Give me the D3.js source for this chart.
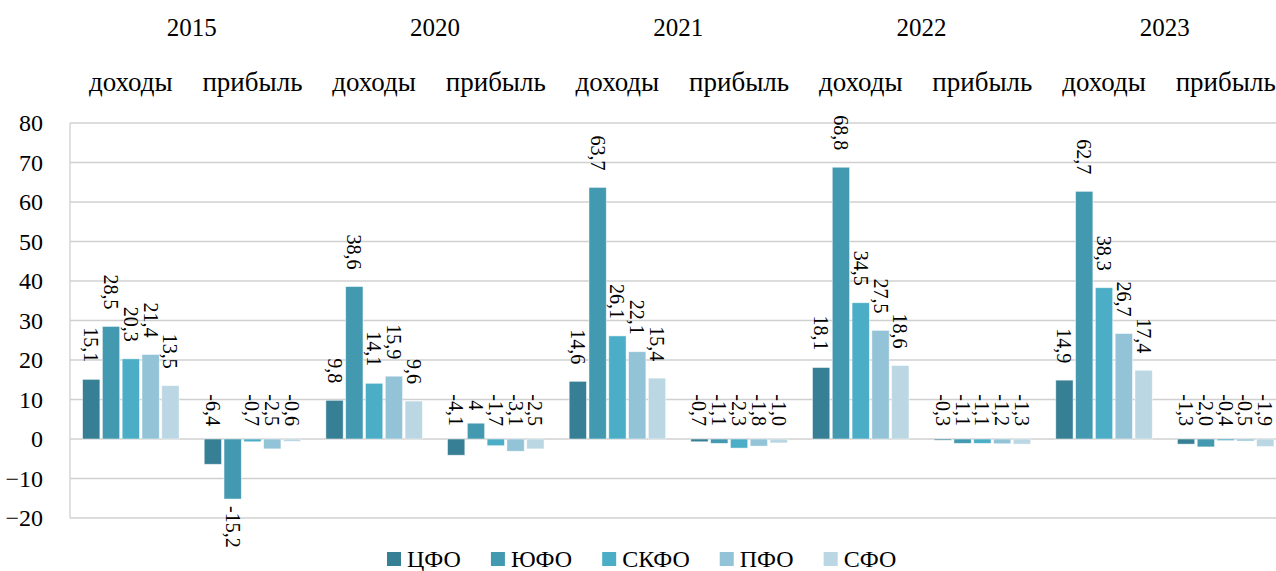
<!DOCTYPE html>
<html>
<head>
<meta charset="utf-8">
<script src="https://cdn.jsdelivr.net/npm/d3@7"></script>
<style>
  body { margin: 0; background: #fff; }
  svg text { font-family: "Liberation Serif", "DejaVu Serif", serif; }
</style>
</head>
<body>
<div id="container"></div>
<script>
const years = ["2015", "2020", "2021", "2022", "2023"];
const kinds = ["доходы", "прибыль"];
const districts = ["ЦФО", "ЮФО", "СКФО", "ПФО", "СФО"];
const colors = ["#377f94", "#4399b0", "#4baec6", "#93c3d6", "#bad7e3"];
const yTicks = [-20, -10, 0, 10, 20, 30, 40, 50, 60, 70, 80];

// values per district, order: 2015 доходы, 2015 прибыль, 2020 доходы, ...
const cfo  = ["15,1", "-6,4",  "9,8", "-4,1", "14,6", "-0,7", "18,1", "-0,3", "14,9", "-1,3"];
const yufo = ["28,5", "-15,2", "38,6", "4",   "63,7", "-1,1", "68,8", "-1,1", "62,7", "-2,0"];
const skfo = ["20,3", "-0,7",  "14,1", "-1,7", "26,1", "-2,3", "34,5", "-1,1", "38,3", "-0,4"];
const pfo  = ["21,4", "-2,5",  "15,9", "-3,1", "22,1", "-1,8", "27,5", "-1,2", "26,7", "-0,5"];
const sfo  = ["13,5", "-0,6",  "9,6", "-2,5", "15,4", "-1,0", "18,6", "-1,3", "17,4", "-1,9"];
const series = [cfo, yufo, skfo, pfo, sfo];

const w = 1276; // canvas width
const h = 571;  // canvas height
const font = "Liberation Serif";

const groups = [];
years.forEach(y => kinds.forEach(k => groups.push(y + "|" + k)));

const rows = [];
series.forEach((s, i) => {
	s.forEach((label, j) => {
		rows.push({ group: groups[j], district: districts[i], label: label, value: +label.replace(",", ".") });
	});
});

const svg = d3.select("#container").append("svg").attr("width", w).attr("height", h).attr("font-family", font);

const x0 = d3.scaleBand().domain(groups).range([70, 1286.5]).padding(0);
const x1 = d3.scaleBand().domain(districts).range([0, x0.bandwidth()]).paddingInner(0.126).paddingOuter(0.635);
const yScale = d3.scaleLinear().domain([-20, 80]).range([518, 123]);
const color = d3.scaleOrdinal().domain(districts).range(colors);

// grid
svg.append("g").selectAll("line").data(yTicks).enter().append("line")
	.attr("x1", 70).attr("x2", w)
	.attr("y1", d => yScale(d)).attr("y2", d => yScale(d))
	.attr("stroke", "#d0d0d0").attr("stroke-width", 1.3);
svg.append("line").attr("x1", 70).attr("x2", 70).attr("y1", yScale(80)).attr("y2", yScale(-20))
	.attr("stroke", "#d0d0d0").attr("stroke-width", 1.3);

const yAxis = d3.axisLeft(yScale).tickValues(yTicks).tickSize(0).tickPadding(0);
const ya = svg.append("g").attr("transform", "translate(43,0)").call(yAxis)
	.attr("font-family", font).attr("font-size", 24);
ya.select(".domain").remove();
ya.selectAll("text").attr("fill", "#000");

// bars
svg.append("g").selectAll("rect").data(rows).enter().append("rect")
	.attr("x", d => x0(d.group) + x1(d.district))
	.attr("y", d => yScale(Math.max(0, d.value)))
	.attr("width", x1.bandwidth())
	.attr("height", d => Math.abs(yScale(d.value) - yScale(0)))
	.attr("fill", d => color(d.district))
	.attr("stroke", "#fff").attr("stroke-opacity", 0.6).attr("stroke-width", 0.8);

// data labels (rotated)
svg.append("g").selectAll("text").data(rows).enter().append("text")
	.attr("transform", d => {
		const cx = x0(d.group) + x1(d.district) + x1.bandwidth() / 2;
		let cy;
		if (d.value < -10) cy = yScale(d.value) + 7;
		else if (d.value < 5) cy = yScale(Math.max(0, d.value)) - 13;
		else cy = yScale(d.value) - 17;
		return `translate(${cx},${cy}) rotate(90)`;
	})
	.attr("text-anchor", d => d.value < -10 ? "start" : "end")
	.attr("dy", "0.35em")
	.attr("font-size", 20)
	.text(d => d.label);

// category headers
svg.append("g").selectAll("text").data(years).enter().append("text")
	.attr("x", d => x0(d + "|" + kinds[0]) + x0.bandwidth())
	.attr("y", 36)
	.attr("text-anchor", "middle").attr("font-size", 25)
	.text(d => d);
svg.append("g").selectAll("text").data(groups).enter().append("text")
	.attr("x", d => x0(d) + x0.bandwidth() / 2)
	.attr("y", 91)
	.attr("text-anchor", "middle").attr("font-size", 27)
	.text(d => d.split("|")[1]);

// legend
const lg = svg.append("g");
let lx = 387;
districts.forEach(d => {
	lg.append("rect").attr("x", lx).attr("y", 552).attr("width", 14).attr("height", 14).attr("fill", color(d));
	const t = lg.append("text").attr("x", lx + 20).attr("y", 567).attr("font-size", 24).text(d);
	lx += 20 + t.node().getComputedTextLength() + 30;
});
</script>
</body>
</html>
